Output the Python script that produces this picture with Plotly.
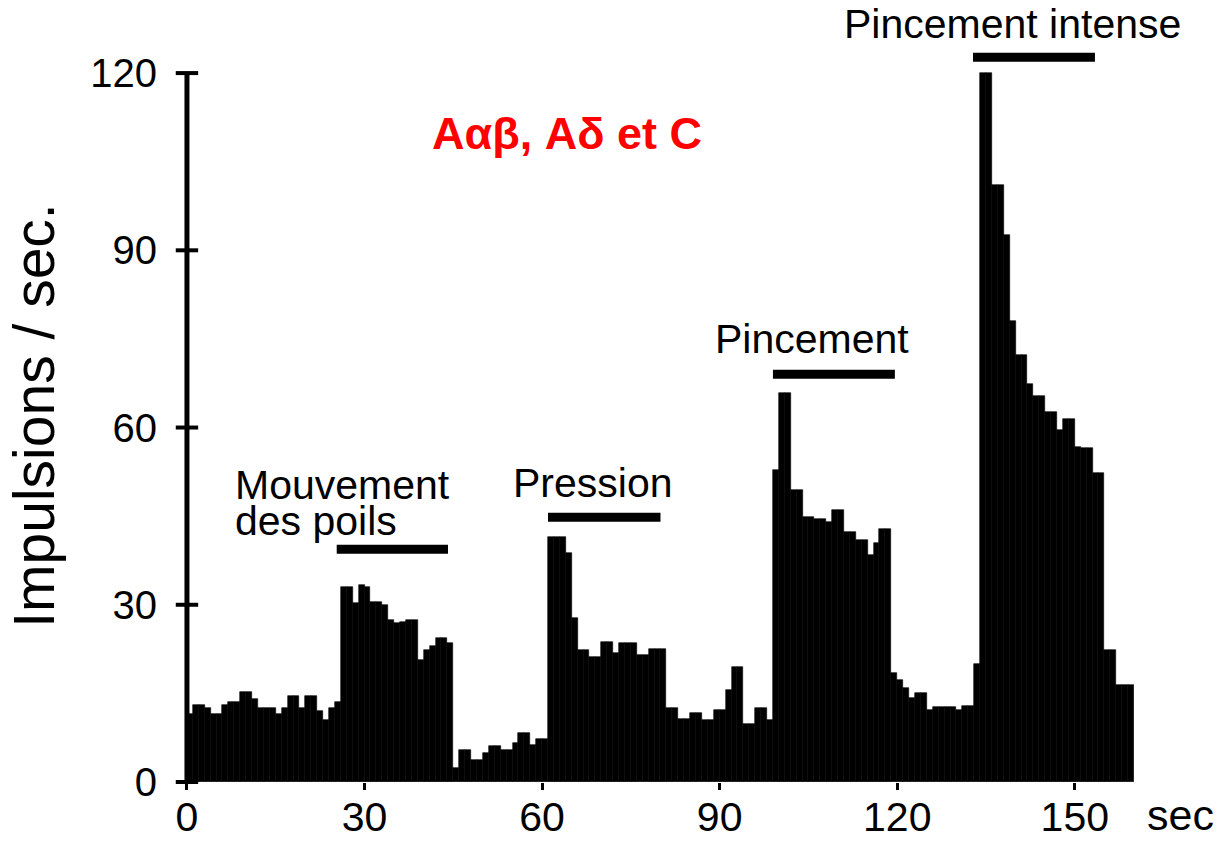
import plotly.graph_objects as go

# Time bins (1 s each, start of bin in seconds)
bin_start = list(range(160))
# Impulses per second in each bin
impulses = [
    11.5, 13, 13, 12.5, 11.5, 11.5, 13, 13.5, 13.5, 15.3,
    15.3, 14, 12.5, 12.5, 12.5, 11.5, 12.5, 14.5, 14.5, 12.5,
    14.5, 14.5, 12, 10.5, 12.5, 13.5, 33, 33, 30.3, 33.3,
    33, 30.5, 30.5, 30, 27.4, 26.9, 27, 27.4, 27.4, 20.6,
    22.3, 23, 24.4, 24.4, 23.5, 2.4, 5.4, 5.4, 3.7, 3.7,
    4.9, 6.1, 6.1, 5.4, 5.4, 6.6, 8.3, 8.3, 6.3, 7.2,
    7.2, 41.5, 41.5, 41.5, 38.7, 27.7, 22.3, 22.3, 21.1, 21.1,
    23.7, 23.7, 21.8, 23.6, 23.6, 23.6, 21.5, 21.5, 22.5, 22.5,
    22.5, 12.5, 12.5, 10.6, 10.6, 11.7, 11.7, 10.5, 10.5, 12.2,
    12.2, 15.6, 19.5, 19.5, 9.9, 9.9, 12.5, 12.5, 10.5, 52.8,
    65.9, 65.9, 49.4, 49.4, 44.9, 44.9, 44.5, 44.5, 44, 46,
    46, 42.3, 42.3, 41, 41, 38.4, 40.4, 42.9, 42.9, 18.4,
    17.3, 15.9, 14.2, 15, 15, 12.2, 12.7, 12.7, 12.7, 12.7,
    12.2, 12.8, 12.8, 20, 120, 120, 101, 101, 92.6, 78,
    72.2, 72.2, 67.4, 65.4, 65.4, 62.6, 62.6, 59.5, 61.4, 61.4,
    56.7, 56.5, 56.5, 52.3, 52.3, 22.3, 22.3, 16.4, 16.4, 16.4,
]

# Stimulus periods (start, end, bar level)
stim_names = ["Mouvement des poils", "Pression", "Pincement", "Pincement intense"]
stim_start = [25.3, 61, 99, 132.8]
stim_end = [44.1, 80, 119.6, 153.4]
stim_level = [39.4, 44.8, 69, 122.7]

x_ticks = [0, 30, 60, 90, 120, 150]
y_ticks = [0, 30, 60, 90, 120]
y_axis_top = 120

FONT = "Liberation Sans, Arial, sans-serif"

fig = go.Figure()
fig.add_trace(go.Bar(
    x=[b + 0.5 for b in bin_start], y=impulses, width=1,
    marker=dict(color="black", line=dict(color="black", width=0.6)),
    showlegend=False, hoverinfo="x+y",
))

for s, e, lv in zip(stim_start, stim_end, stim_level):
    fig.add_trace(go.Scatter(
        x=[s, e], y=[lv, lv], mode="lines",
        line=dict(color="black", width=9), cliponaxis=False,
        showlegend=False, hoverinfo="skip",
    ))

# y axis line from 0 to 120, with crossing tick marks
fig.add_trace(go.Scatter(
    x=[0, 0], y=[0, y_axis_top], mode="lines",
    line=dict(color="black", width=5), cliponaxis=False,
    showlegend=False, hoverinfo="skip",
))
fig.add_trace(go.Scatter(
    x=[0] * len(y_ticks), y=y_ticks, mode="markers",
    marker=dict(symbol="line-ew", size=16, line=dict(color="black", width=4)),
    cliponaxis=False, showlegend=False, hoverinfo="skip",
))

annots = [
    dict(text="Mouvement", x=7.8, y=50.3, xanchor="left"),
    dict(text="des poils", x=7.8, y=44.2, xanchor="left"),
    dict(text="Pression", x=68.6, y=50.6, xanchor="center"),
    dict(text="Pincement", x=105.6, y=75.0, xanchor="center"),
    dict(text="Pincement intense", x=139.5, y=128.3, xanchor="center"),
]
for a in annots:
    fig.add_annotation(xref="x", yref="y", showarrow=False, yanchor="middle",
                       font=dict(family=FONT, size=41, color="black"), **a)

fig.add_annotation(text="sec", xref="paper", yref="paper", x=1.012, y=-0.077,
                   xanchor="left", yanchor="bottom", showarrow=False,
                   font=dict(family=FONT, size=43, color="black"))

fig.add_annotation(text="<b>Aαβ, Aδ et C</b>", xref="x", yref="y", x=64.2, y=109.8,
                   showarrow=False, font=dict(family=FONT, size=45, color="#ff0000"))

fig.add_annotation(text="Impulsions / sec.", xref="paper", yref="paper",
                   x=-0.158, y=0.478, textangle=-90, showarrow=False,
                   xanchor="center", yanchor="middle",
                   font=dict(family=FONT, size=57, color="black"))

fig.update_layout(
    width=1227, height=842,
    margin=dict(l=184, r=93, t=14, b=60, pad=0),
    paper_bgcolor="white", plot_bgcolor="white",
    bargap=0,
    xaxis=dict(range=[-0.5, 160], tickvals=x_ticks, ticks="outside", ticklen=7,
               tickwidth=3, tickcolor="black", showgrid=False, zeroline=False,
               showline=False, automargin=False, ticklabelstandoff=-8,
               tickfont=dict(family=FONT, size=41, color="black")),
    yaxis=dict(range=[0, 130], tickvals=y_ticks, ticks="", showgrid=False,
               zeroline=False, showline=False, automargin=False,
               ticklabelstandoff=26,
               tickfont=dict(family=FONT, size=40, color="black")),
    font=dict(family=FONT, color="black"),
)

fig.write_html("out.html", config={"displayModeBar": False})
